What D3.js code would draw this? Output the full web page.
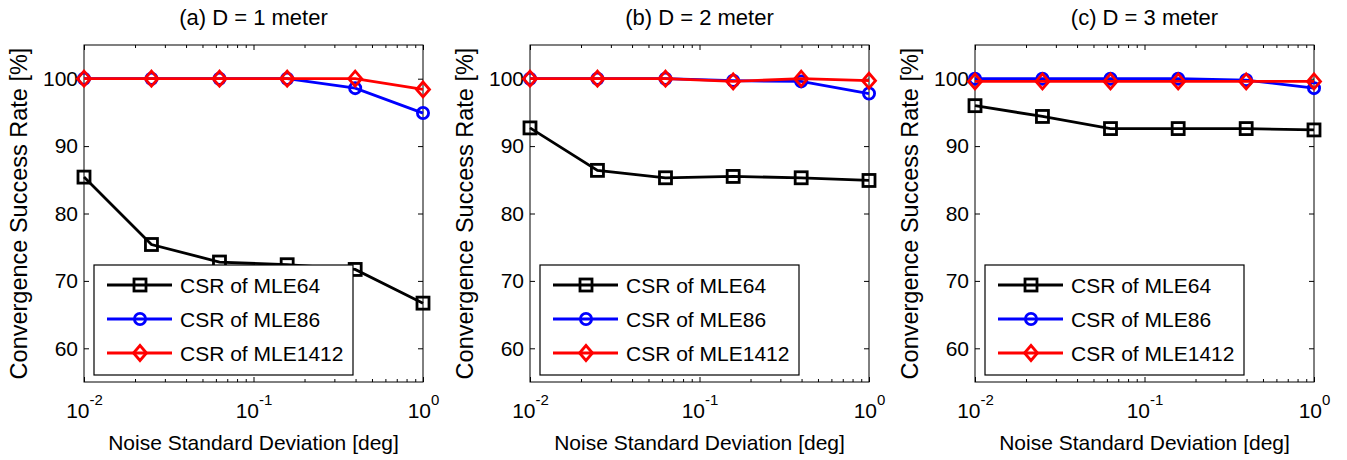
<html>
<head>
  <meta charset="utf-8">
  <script src="https://d3js.org/d3.v7.min.js"></script>
  <style>
    body { margin: 0; background: #fff; }
    text { font-family: "Liberation Sans", Arial, sans-serif; fill: #000; }
  </style>
</head>
<body>
<div id="chart"></div>
<script>
  // values
  var noiseStd = [0.01, 0.025, 0.063, 0.158, 0.398, 1];
  var panelTitles = ["(a) D = 1 meter", "(b) D = 2 meter", "(c) D = 3 meter"];
  var mle64 = [
    [85.4, 75.4, 72.8, 72.4, 71.7, 66.7],
    [92.7, 86.4, 85.3, 85.5, 85.3, 84.9],
    [96.0, 94.4, 92.6, 92.6, 92.6, 92.4]
  ];
  var mle86 = [
    [100, 100, 100, 100, 98.6, 94.9],
    [100, 100, 100, 99.7, 99.6, 97.8],
    [100, 100, 100, 100, 99.8, 98.6]
  ];
  var mle1412 = [
    [100, 100, 100, 100, 100, 98.4],
    [100, 100, 100, 99.6, 100, 99.7],
    [99.6, 99.6, 99.6, 99.6, 99.6, 99.6]
  ];
  var seriesNames = ["CSR of MLE64", "CSR of MLE86", "CSR of MLE1412"];
  var yTicks = [60, 70, 80, 90, 100];
  var xMajor = [0.01, 0.1, 1];
  var xExp = ["-2", "-1", "0"];

  var colors = ["#000000", "#0000ff", "#ff0000"];
  var markers = ["square", "circle", "diamond"];

  var totalW = 1347, totalH = 460;
  var panelLeft = [84, 530, 975];
  var plotW = 339, plotTop = 45, plotH = 337;

  var svg = d3.select('#chart').append('svg')
    .attr('width', totalW).attr('height', totalH);

  var minor = [];
  [0.01, 0.1].forEach(function(d) {
    for (var k = 2; k <= 9; k++) minor.push(d * k);
  });

  function drawMarker(g, type, cx, cy, color) {
    if (type == 'square') {
      g.append('rect').attr('x', cx - 6).attr('y', cy - 6)
        .attr('width', 12).attr('height', 12)
        .attr('fill', 'none').attr('stroke', color).attr('stroke-width', 2.8);
    } else if (type == 'circle') {
      g.append('circle').attr('cx', cx).attr('cy', cy).attr('r', 5.6)
        .attr('fill', 'none').attr('stroke', color).attr('stroke-width', 2.8);
    } else {
      g.append('path')
        .attr('d', 'M' + cx + ',' + (cy - 7.5) + 'L' + (cx + 6.5) + ',' + cy +
                   'L' + cx + ',' + (cy + 7.5) + 'L' + (cx - 6.5) + ',' + cy + 'Z')
        .attr('fill', 'none').attr('stroke', color).attr('stroke-width', 2.8);
    }
  }

  panelTitles.forEach(function(title, p) {
    var x = d3.scaleLog().domain([0.01, 1]).range([0, plotW]);
    var y = d3.scaleLinear().domain([55, 105]).range([plotH, 0]);

    var g = svg.append('g')
      .attr('transform', 'translate(' + panelLeft[p] + ',' + plotTop + ')');

    // box
    g.append('rect').attr('width', plotW).attr('height', plotH)
      .attr('fill', 'none').attr('stroke', '#000').attr('stroke-width', 1);

    // y axes (left with labels, right ticks only)
    var yl = g.append('g').call(d3.axisLeft(y).tickValues(yTicks).tickSize(-5).tickPadding(6));
    yl.select('.domain').remove();
    yl.attr('font-family', null);
    yl.selectAll('text').style('font-size', '21px');
    g.append('g').attr('transform', 'translate(' + plotW + ',0)')
      .call(d3.axisRight(y).tickValues(yTicks).tickSize(-5).tickFormat(''))
      .select('.domain').remove();

    // x axes
    var xb = g.append('g').attr('transform', 'translate(0,' + plotH + ')')
      .call(d3.axisBottom(x).tickValues(xMajor).tickSize(-5).tickPadding(14));
    xb.select('.domain').remove();
    xb.attr('font-family', null);
    xb.selectAll('text').each(function(d, i) {
      var t = d3.select(this).text('').attr('dy', null).attr('y', 36);
      t.append('tspan').style('font-size', '21px').text('10');
      t.append('tspan').style('font-size', '15px').attr('dy', -13).text(xExp[i]);
    });
    g.append('g').attr('transform', 'translate(0,' + plotH + ')')
      .call(d3.axisBottom(x).tickValues(minor).tickSize(-3).tickFormat(''))
      .select('.domain').remove();
    g.append('g').call(d3.axisTop(x).tickValues(xMajor).tickSize(-5).tickFormat(''))
      .select('.domain').remove();
    g.append('g').call(d3.axisTop(x).tickValues(minor).tickSize(-3).tickFormat(''))
      .select('.domain').remove();
    g.selectAll('.tick line').attr('stroke', '#000');

    // series
    var seriesData = [mle64[p], mle86[p], mle1412[p]];
    var line = d3.line()
      .x(function(d, i) { return x(noiseStd[i]); })
      .y(function(d) { return y(d); });
    seriesData.forEach(function(vals, s) {
      g.append('path').datum(vals).attr('d', line)
        .attr('fill', 'none').attr('stroke', colors[s]).attr('stroke-width', 2.8);
      vals.forEach(function(v, i) {
        drawMarker(g, markers[s], x(noiseStd[i]), y(v), colors[s]);
      });
    });

    // legend
    var lg = g.append('g').attr('transform', 'translate(10,220)');
    lg.append('rect').attr('width', 259).attr('height', 110)
      .attr('fill', '#fff').attr('stroke', '#000').attr('stroke-width', 1.2);
    seriesNames.forEach(function(name, s) {
      var ry = 20 + s * 34;
      lg.append('line').attr('x1', 13).attr('x2', 78).attr('y1', ry).attr('y2', ry)
        .attr('stroke', colors[s]).attr('stroke-width', 3.2);
      drawMarker(lg, markers[s], 46, ry, colors[s]);
      lg.append('text').attr('x', 86).attr('y', ry + 7.5)
        .style('font-size', '21px').text(name);
    });

    // title and axis labels
    g.append('text').attr('x', plotW / 2).attr('y', -20)
      .attr('text-anchor', 'middle').style('font-size', '22px').text(title);
    g.append('text').attr('x', plotW / 2).attr('y', plotH + 68)
      .attr('text-anchor', 'middle').style('font-size', '21px')
      .text('Noise Standard Deviation [deg]');
    g.append('text')
      .attr('transform', 'translate(-57,' + (plotH / 2) + ') rotate(-90)')
      .attr('text-anchor', 'middle').style('font-size', '23.5px')
      .text('Convergence Success Rate [%]');
  });
</script>
</body>
</html>
